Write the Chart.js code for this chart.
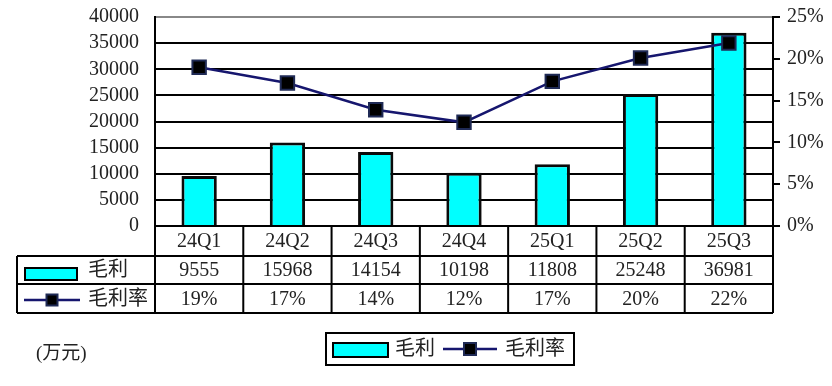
<!DOCTYPE html>
<html>
<head>
<meta charset="utf-8">
<script src="https://cdn.jsdelivr.net/npm/chart.js@4.4.1/dist/chart.umd.min.js"></script>
<style>
  body { margin: 0; background: #fff; }
  #wrap { width: 832px; height: 386px; }
</style>
</head>
<body>
<div id="wrap"><canvas id="myChart" width="832" height="386"></canvas></div>
<script>
// data
const categories = ['24Q1', '24Q2', '24Q3', '24Q4', '25Q1', '25Q2', '25Q3'];
const grossProfit = [9555, 15968, 14154, 10198, 11808, 25248, 36981];
const grossMargin = [19.0, 17.1, 13.9, 12.4, 17.3, 20.1, 21.9]; // %
const barLabel = '毛利';
const lineLabel = '毛利率';
const unitLabel = '(万元)';

const FONT = '"Liberation Serif", "Noto Sans CJK SC", serif';
const BAR_COLOR = '#00ffff';
const LINE_COLOR = '#16166e';

function drawMarker(ctx, x, y, s) {
  ctx.fillStyle = '#000';
  ctx.strokeStyle = '#1f2a55';
  ctx.lineWidth = 2;
  ctx.fillRect(x - s / 2, y - s / 2, s, s);
  ctx.strokeRect(x - s / 2, y - s / 2, s, s);
}

// data table under the plot + bottom legend
const tablePlugin = {
  id: 'dataTable',
  afterDraw(chart) {
    const ctx = chart.ctx;
    const area = chart.chartArea;
    const n = categories.length;
    const w = area.width / n;
    const rows = [area.bottom, 256, 284, 313];
    const headLeft = 17;

    ctx.save();
    ctx.strokeStyle = '#000';
    ctx.lineWidth = 2;
    // horizontal lines
    ctx.beginPath();
    ctx.moveTo(area.left, rows[0]); ctx.lineTo(area.right, rows[0]);
    for (let r = 1; r < rows.length; r++) {
      ctx.moveTo(headLeft, rows[r]); ctx.lineTo(area.right, rows[r]);
    }
    // vertical lines
    for (let i = 0; i <= n; i++) {
      const x = area.left + i * w;
      ctx.moveTo(x, rows[0]); ctx.lineTo(x, rows[3]);
    }
    ctx.moveTo(headLeft, rows[1]); ctx.lineTo(headLeft, rows[3]);
    ctx.stroke();

    ctx.fillStyle = '#222';
    ctx.font = '20px ' + FONT;
    ctx.textAlign = 'center';
    ctx.textBaseline = 'middle';
    const mid = (r) => (rows[r] + rows[r + 1]) / 2 + 1;
    for (let i = 0; i < n; i++) {
      const cx = chart.scales.x.getPixelForValue(i);
      ctx.fillText(categories[i], cx, mid(0));
      ctx.fillText(String(grossProfit[i]), cx, mid(1));
      ctx.fillText(Math.round(grossMargin[i]) + '%', cx, mid(2));
    }

    // row headers
    ctx.fillStyle = BAR_COLOR;
    ctx.fillRect(25, 268, 52, 12);
    ctx.strokeRect(25, 268, 52, 12);
    ctx.strokeStyle = LINE_COLOR;
    ctx.lineWidth = 2.5;
    ctx.beginPath(); ctx.moveTo(24, 300); ctx.lineTo(80, 300); ctx.stroke();
    drawMarker(ctx, 52, 300, 11);
    ctx.fillStyle = '#222';
    ctx.textAlign = 'left';
    ctx.fillText(barLabel, 88, mid(1));
    ctx.fillText(lineLabel, 88, mid(2));

    // unit
    ctx.font = '19px ' + FONT;
    ctx.fillText(unitLabel, 36, 354);

    // legend box
    ctx.strokeStyle = '#000';
    ctx.lineWidth = 2;
    ctx.strokeRect(326, 333, 248, 32);
    ctx.fillStyle = BAR_COLOR;
    ctx.fillRect(333, 343, 55, 14);
    ctx.strokeRect(333, 343, 55, 14);
    ctx.strokeStyle = LINE_COLOR;
    ctx.lineWidth = 2.5;
    ctx.beginPath(); ctx.moveTo(443, 349); ctx.lineTo(497, 349); ctx.stroke();
    drawMarker(ctx, 470, 349, 12);
    ctx.fillStyle = '#222';
    ctx.font = '20px ' + FONT;
    ctx.fillText(barLabel, 395, 350);
    ctx.fillText(lineLabel, 505, 350);
    ctx.restore();
  }
};

function fixWidth(width) {
  return (s) => {
    s.width = width;
    s.paddingTop = 0;
    s.paddingBottom = 0;
  };
}

new Chart(document.getElementById('myChart'), {
  data: {
    labels: categories,
    datasets: [
      {
        type: 'line',
        label: lineLabel,
        data: grossMargin,
        yAxisID: 'y2',
        order: 0,
        borderColor: LINE_COLOR,
        borderWidth: 2.5,
        pointStyle: 'rect',
        pointRadius: 9.5,
        pointBackgroundColor: '#000',
        pointBorderColor: '#1f2a55',
        pointBorderWidth: 2,
        tension: 0
      },
      {
        type: 'bar',
        label: barLabel,
        data: grossProfit,
        yAxisID: 'y',
        order: 1,
        backgroundColor: BAR_COLOR,
        borderColor: '#0a0a0a',
        borderWidth: 3,
        barPercentage: 0.4,
        categoryPercentage: 1
      }
    ]
  },
  options: {
    responsive: false,
    animation: false,
    layout: { padding: { top: 17, bottom: 160, left: 0, right: 0 } },
    plugins: { legend: { display: false }, tooltip: { enabled: false } },
    scales: {
      x: { display: false },
      y: {
        position: 'left',
        min: 0, max: 40000,
        afterFit: fixWidth(155),
        ticks: {
          stepSize: 5000, autoSkip: false, padding: 16, color: '#222',
          font: { family: FONT, size: 20 },
          callback: (v) => String(v)
        },
        grid: {
          drawTicks: false,
          color: (c) => c.tick && c.tick.value === 40000 ? '#888' : '#000',
          lineWidth: 2
        },
        border: { color: '#000', width: 2 }
      },
      y2: {
        position: 'right',
        min: 0, max: 25,
        afterFit: fixWidth(59),
        ticks: {
          stepSize: 5, autoSkip: false, padding: 7, color: '#222',
          font: { family: FONT, size: 20 },
          callback: (v) => v + '%'
        },
        grid: { drawOnChartArea: false, drawTicks: true, tickLength: 7, color: '#000', lineWidth: 2 },
        border: { color: '#000', width: 2 }
      }
    }
  },
  plugins: [tablePlugin]
});
</script>
</body>
</html>
